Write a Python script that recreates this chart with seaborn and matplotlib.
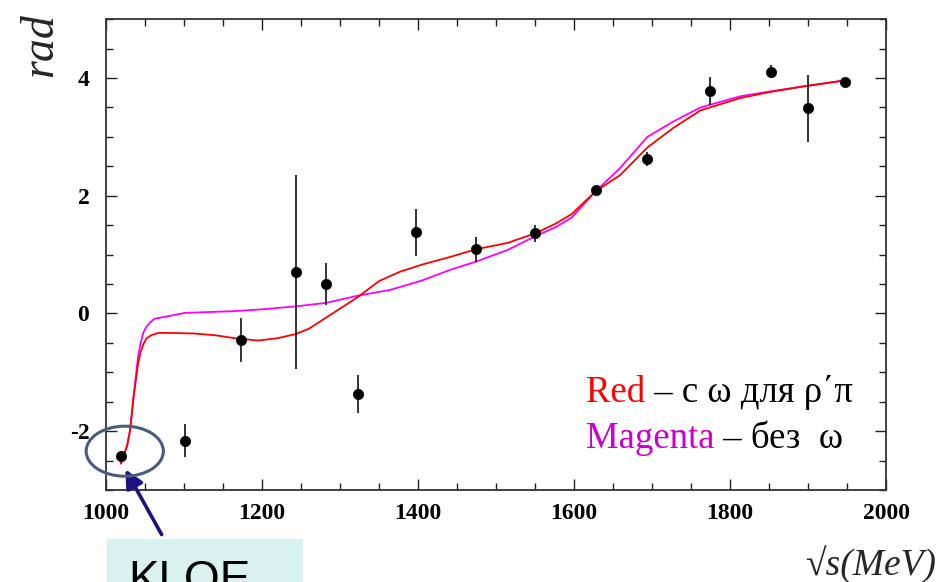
import numpy as np
import pandas as pd
import matplotlib
matplotlib.use("Agg")
import matplotlib.pyplot as plt
from matplotlib.patches import Ellipse, Rectangle
from matplotlib.ticker import MultipleLocator
import seaborn as sns

#### data ####
pts_x = [1019, 1101, 1173, 1243, 1282, 1323, 1398, 1474, 1550, 1628, 1694, 1774, 1853, 1900, 1947]
pts_y = [-2.43, -2.16, -0.45, 0.71, 0.50, -1.37, 1.38, 1.09, 1.36, 2.10, 2.62, 3.78, 4.11, 3.49, 3.93]
pts_err = [0.10, 0.28, 0.37, 1.65, 0.35, 0.32, 0.40, 0.21, 0.14, 0.05, 0.12, 0.23, 0.11, 0.57, 0.04]

red_x = [1019, 1027, 1031, 1035, 1041, 1044, 1048, 1052, 1058, 1067, 1080, 1113, 1140, 1165, 1195,
         1220, 1243, 1260, 1281, 1302, 1323, 1350, 1377, 1405, 1441, 1474, 1515, 1550, 1577, 1597,
         1628, 1659, 1694, 1727, 1762, 1813, 1850, 1890, 1947]
red_y = [-2.55, -2.25, -1.97, -1.45, -0.86, -0.67, -0.52, -0.42, -0.37, -0.33, -0.33, -0.34, -0.37,
         -0.42, -0.46, -0.42, -0.35, -0.26, -0.08, 0.10, 0.28, 0.55, 0.71, 0.83, 0.96, 1.09, 1.20,
         1.36, 1.53, 1.69, 2.08, 2.35, 2.82, 3.15, 3.45, 3.66, 3.76, 3.85, 3.96]

mag_x = [1019, 1027, 1031, 1035, 1041, 1044, 1048, 1052, 1056, 1062, 1082, 1101, 1165, 1199, 1243,
         1282, 1322, 1364, 1405, 1441, 1474, 1515, 1550, 1577, 1597, 1628, 1659, 1694, 1727, 1762,
         1813, 1850, 1890, 1947]
mag_y = [-2.55, -2.25, -1.97, -1.45, -0.74, -0.52, -0.32, -0.22, -0.16, -0.09, -0.04, 0.01, 0.04,
         0.07, 0.12, 0.18, 0.30, 0.40, 0.56, 0.74, 0.88, 1.08, 1.31, 1.47, 1.63, 2.08, 2.47, 3.00,
         3.26, 3.50, 3.69, 3.77, 3.85, 3.96]

x_ticks = [1000, 1200, 1400, 1600, 1800, 2000]
y_ticks = [-2, 0, 2, 4]
########

sns.set_style("ticks")
plt.rcParams['font.family'] = ['Liberation Serif', 'DejaVu Serif']
plt.rcParams['axes.unicode_minus'] = False

fig = plt.figure(figsize=(9.4, 5.82), dpi=100)
ax = fig.add_axes([0.1128, 0.158, 0.8298, 0.809])

pts = pd.DataFrame({"x": pts_x, "y": pts_y, "err": pts_err})
ax.vlines(pts["x"], pts["y"] - pts["err"], pts["y"] + pts["err"], color="#111111", lw=1.2, zorder=3)
sns.scatterplot(data=pts, x="x", y="y", color="black", s=55, edgecolor="black", linewidth=0.5, ax=ax, zorder=4)

sns.lineplot(x=mag_x, y=mag_y, color="#ff00ff", lw=1.3, ax=ax, sort=False, zorder=2)
sns.lineplot(x=red_x, y=red_y, color="#ff0000", lw=1.3, ax=ax, sort=False, zorder=2)

ax.set_xlim(1000, 2000)
ax.set_ylim(-3, 5)
ax.set_xticks(x_ticks)
ax.set_yticks(y_ticks)
ax.xaxis.set_minor_locator(MultipleLocator(50))
ax.yaxis.set_minor_locator(MultipleLocator(0.5))
ax.tick_params(which="both", direction="in", top=True, right=True, colors="#222222", width=1)
ax.tick_params(which="major", length=8, pad=9, labelsize=17)
ax.tick_params(axis="y", which="major", pad=12)
ax.tick_params(which="minor", length=5)
for lab in ax.get_xticklabels() + ax.get_yticklabels():
    lab.set_fontweight("bold")
    lab.set_color("black")
for sp in ax.spines.values():
    sp.set_linewidth(1.3)
    sp.set_color("#333333")
ax.set_xlabel("")
ax.set_ylabel("")

# axis titles
fig.text(41 / 940, 1 - 45 / 582, "rad", rotation=90, style="italic", fontsize=33,
         ha="center", va="center")
fig.text(805 / 940, 1 - 546 / 582, "√s(MeV)", style="italic", fontsize=27, ha="left", va="top")

# legend text in two colours
t1 = ax.text(1615, -1.51, "Red", color="#ff0000", fontsize=26.5, va="baseline")
t2 = ax.text(1615, -2.28, "Magenta", color="#cc00cc", fontsize=26.5, va="baseline")
fig.canvas.draw()
inv = ax.transData.inverted()
for t, rest in [(t1, " – с ω для ρ΄π"), (t2, " – без  ω")]:
    bb = t.get_window_extent()
    x_end = inv.transform((bb.x1, bb.y0))[0]
    ax.text(x_end, t.get_position()[1], rest, color="black", fontsize=26.5, va="baseline")

# KLOE marker
ax.add_patch(Ellipse((1024, -2.34), 99, 0.85, fill=False, ec="#4a5b7c", lw=2.2, clip_on=False, zorder=5))
ax.annotate("", xy=(124, 582 - 467), xycoords="figure pixels",
            xytext=(163, 582 - 537), textcoords="figure pixels",
            arrowprops=dict(arrowstyle="-|>,head_length=1.1,head_width=0.55", color="#1d1080", lw=2.6))

fig.patches.append(Rectangle((107 / 940, 0), 196 / 940, 43 / 582, transform=fig.transFigure,
                             facecolor="#d9f2ee", edgecolor="none"))
fig.text(128 / 940, 1 - 559 / 582, "KLOE", fontsize=33, ha="left", va="top",
         family=["Liberation Sans", "DejaVu Sans"], color="black")

fig.savefig("out.png", dpi=100)
